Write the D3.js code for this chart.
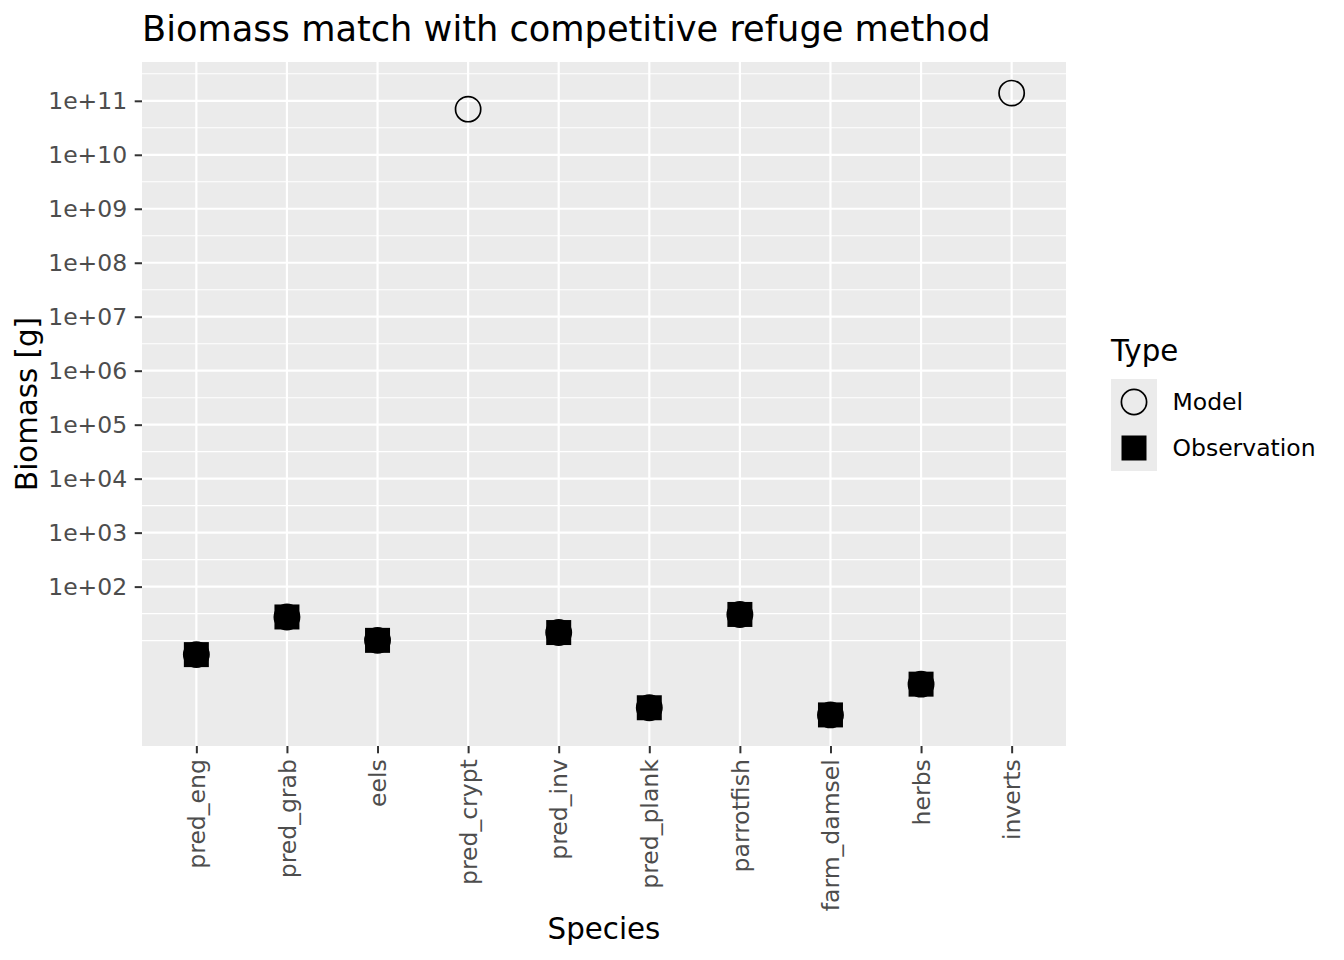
<!DOCTYPE html>
<meta charset="utf-8">
<style>

body {
  margin: 0;
  background: #fff;
}

svg {
  font-family: "DejaVu Sans", sans-serif;
}

.axis .tick text {
  fill: #4d4d4d;
  font-family: "DejaVu Sans", sans-serif;
  font-size: 23.5px;
}

.axis .tick line {
  stroke: #333;
  stroke-width: 2px;
}

</style>
<svg width="1344" height="960"></svg>
<script src="https://d3js.org/d3.v7.min.js"></script>
<script>

var species = ["pred_eng", "pred_grab", "eels", "pred_crypt", "pred_inv",
  "pred_plank", "parrotfish", "farm_damsel", "herbs", "inverts"];
var observed = [5.5, 27.4, 10.1, null, 14.1, 0.57, 30.5, 0.42, 1.56, null];
var model = [5.5, 27.4, 10.1, 7.0e10, 14.1, 0.57, 30.5, 0.42, 1.56, 1.39e11];
var yTicks = [1e2, 1e3, 1e4, 1e5, 1e6, 1e7, 1e8, 1e9, 1e10, 1e11];
var yTickLabels = ["1e+02", "1e+03", "1e+04", "1e+05", "1e+06",
  "1e+07", "1e+08", "1e+09", "1e+10", "1e+11"];
var legendTypes = ["Model", "Observation"];

var svg = d3.select("svg"),
    margin = {top: 62, right: 278, bottom: 214, left: 142},
    width = +svg.attr("width") - margin.left - margin.right,
    height = +svg.attr("height") - margin.top - margin.bottom,
    g = svg.append("g").attr("transform", "translate(" + margin.left + "," + margin.top + ")");

// ggplot style 5% expansion in log space
var all = observed.concat(model).filter(function(d) { return d != null; });
var lo = Math.log10(d3.min(all)),
    hi = Math.log10(d3.max(all)),
    pad = (hi - lo) * 0.05;

var x = d3.scalePoint()
    .domain(species)
    .range([0, width])
    .padding(0.6);

var y = d3.scaleLog()
    .domain([Math.pow(10, lo - pad), Math.pow(10, hi + pad)])
    .range([height, 0]);

// minor breaks halfway between majors, one step extended below
var minor = [];
for (var e = Math.log10(yTicks[0]) - 1; e <= Math.log10(yTicks[yTicks.length - 1]) + 1; e += 0.5) {
  var v = Math.pow(10, e);
  if (v >= y.domain()[0] && v <= y.domain()[1] && yTicks.indexOf(v) < 0) minor.push(v);
}

g.append("rect")
    .attr("width", width)
    .attr("height", height)
    .attr("fill", "#ebebeb");

g.selectAll(".minor")
  .data(minor)
  .enter().append("line")
    .attr("x1", 0).attr("x2", width)
    .attr("y1", function(d) { return y(d); })
    .attr("y2", function(d) { return y(d); })
    .attr("stroke", "#fff")
    .attr("stroke-width", 1.1);

g.selectAll(".major-y")
  .data(yTicks)
  .enter().append("line")
    .attr("x1", 0).attr("x2", width)
    .attr("y1", function(d) { return y(d); })
    .attr("y2", function(d) { return y(d); })
    .attr("stroke", "#fff")
    .attr("stroke-width", 2.2);

g.selectAll(".major-x")
  .data(species)
  .enter().append("line")
    .attr("y1", 0).attr("y2", height)
    .attr("x1", function(d) { return x(d); })
    .attr("x2", function(d) { return x(d); })
    .attr("stroke", "#fff")
    .attr("stroke-width", 2.2);

// observations: filled squares
var side = 25;
g.selectAll(".obs")
  .data(species.filter(function(d, i) { return observed[i] != null; }))
  .enter().append("rect")
    .attr("x", function(d) { return x(d) - side / 2; })
    .attr("y", function(d) { return y(observed[species.indexOf(d)]) - side / 2; })
    .attr("width", side)
    .attr("height", side)
    .attr("fill", "#000");

// model: open circles
g.selectAll(".mod")
  .data(species)
  .enter().append("circle")
    .attr("cx", function(d) { return x(d); })
    .attr("cy", function(d, i) { return y(model[i]); })
    .attr("r", 12.6)
    .attr("fill", "none")
    .attr("stroke", "#000")
    .attr("stroke-width", 1.7);

var yAxis = g.append("g")
    .attr("class", "axis")
    .call(d3.axisLeft(y)
      .tickValues(yTicks)
      .tickFormat(function(d, i) { return yTickLabels[i]; })
      .tickSize(7.3)
      .tickPadding(7.5));
yAxis.select(".domain").remove();

var xAxis = g.append("g")
    .attr("class", "axis")
    .attr("transform", "translate(0," + height + ")")
    .call(d3.axisBottom(x)
      .tickSize(7.3));
xAxis.select(".domain").remove();
xAxis.selectAll(".tick text")
    .attr("transform", "rotate(-90)")
    .attr("x", -13.2)
    .attr("y", 0)
    .attr("dy", "0.35em")
    .attr("text-anchor", "end");

svg.append("text")
    .attr("x", margin.left + width / 2)
    .attr("y", 939)
    .attr("text-anchor", "middle")
    .attr("font-size", "29.3px")
    .text("Species");

svg.append("text")
    .attr("transform", "translate(37," + (margin.top + height / 2) + ") rotate(-90)")
    .attr("text-anchor", "middle")
    .attr("font-size", "29.3px")
    .text("Biomass [g]");

svg.append("text")
    .attr("x", 142)
    .attr("y", 40.5)
    .attr("font-size", "35.2px")
    .text("Biomass match with competitive refuge method");

// legend
var legend = svg.append("g").attr("transform", "translate(1111,0)");

legend.append("text")
    .attr("x", 0)
    .attr("y", 361)
    .attr("font-size", "29.3px")
    .text("Type");

var keys = legend.selectAll(".key")
  .data(legendTypes)
  .enter().append("g")
    .attr("transform", function(d, i) { return "translate(0," + (379 + i * 46) + ")"; });

keys.append("rect")
    .attr("width", 46)
    .attr("height", 46)
    .attr("fill", "#ebebeb");

keys.filter(function(d) { return d === "Model"; })
  .append("circle")
    .attr("cx", 23).attr("cy", 23)
    .attr("r", 12.6)
    .attr("fill", "none")
    .attr("stroke", "#000")
    .attr("stroke-width", 1.7);

keys.filter(function(d) { return d === "Observation"; })
  .append("rect")
    .attr("x", 23 - side / 2).attr("y", 23 - side / 2)
    .attr("width", side).attr("height", side)
    .attr("fill", "#000");

keys.append("text")
    .attr("x", 61.5)
    .attr("y", 23)
    .attr("dy", "0.35em")
    .attr("font-size", "23.5px")
    .text(function(d) { return d; });

</script>
